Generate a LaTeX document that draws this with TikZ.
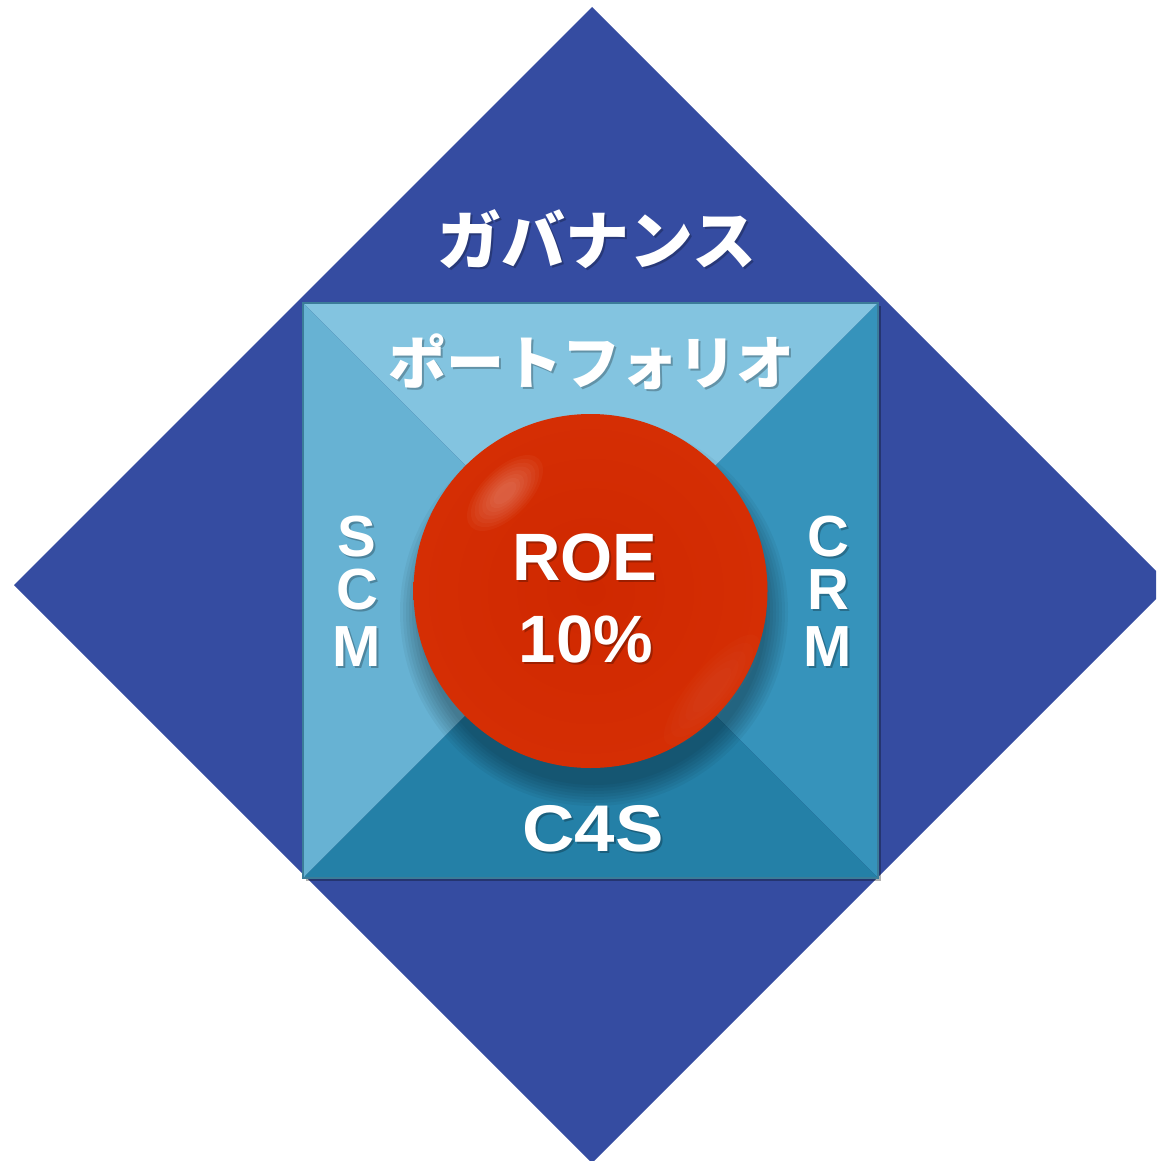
\documentclass[tikz,border=0pt]{standalone}
\usepackage{fontspec}
\setmainfont{Liberation Sans}
\newfontfamily\jpfont{Noto Sans CJK JP}
\usetikzlibrary{calc}

\definecolor{govblue}{HTML}{354CA1}
\definecolor{topface}{HTML}{83C4E0}
\definecolor{leftface}{HTML}{67B2D3}
\definecolor{rightface}{HTML}{3693BB}
\definecolor{bottomface}{HTML}{2480A7}
\definecolor{squareedge}{HTML}{3B7C99}
\definecolor{ballcore}{HTML}{CF2800}
\definecolor{ballmid}{HTML}{D52E04}
\definecolor{ballrim}{HTML}{E3440F}

\pgfdeclareradialshading{redball}{\pgfpoint{0bp}{0bp}}{%
  color(0bp)=(ballcore); color(25bp)=(ballmid); color(40bp)=(ballmid!75!ballrim);
  color(48bp)=(ballrim); color(50bp)=(ballrim!90!black)}

\tikzset{
  label/.style={text=white, font=\bfseries, inner sep=0pt, anchor=base},
  labelshadow/.style={text=black, opacity=0.25, font=\bfseries, inner sep=0pt, anchor=base},
  jplabel/.style={label, font=\jpfont\bfseries},
  jpshadow/.style={labelshadow, font=\jpfont\bfseries},
  letter/.style={font=\bfseries\fontsize{58}{58}\selectfont},
}

\begin{document}
\begin{tikzpicture}[x=1pt, y=-1pt]
  \useasboundingbox (0,0) rectangle (1156,1161);
  \clip (0,0) rectangle (1156,1161);

  % governance diamond
  \coordinate (dt) at (592,7);
  \coordinate (dr) at (1170,585);
  \coordinate (db) at (592,1163);
  \coordinate (dl) at (14,585);
  \fill[govblue] (dt) -- (dr) -- (db) -- (dl) -- cycle;

  % pyramid square, seen from above
  \coordinate (tl) at (303,303);
  \coordinate (tr) at (878,303);
  \coordinate (br) at (878,878);
  \coordinate (bl) at (303,878);
  \coordinate (sc) at (590.5,590.5);
  \fill[black, opacity=0.3] ($(tl)+(3,3)$) rectangle ($(br)+(3,3)$);
  \fill[topface] (tl) -- (tr) -- (sc) -- cycle;
  \fill[leftface] (tl) -- (bl) -- (sc) -- cycle;
  \fill[rightface] (tr) -- (br) -- (sc) -- cycle;
  \fill[bottomface] (bl) -- (br) -- (sc) -- cycle;
  \draw[squareedge, line width=1.5pt] (tl) rectangle (br);

  % soft shadow cast below the ball
  \begin{scope}
    \clip (tl) rectangle (br);
    \foreach \r in {194,191,...,173} {
      \fill[black, opacity=0.045] (594,612) circle[radius=\r];
    }
  \end{scope}

  % the ball
  \coordinate (bc) at (590.5,591);
  \shade[shading=redball] (bc) circle[radius=177];
  % glossy highlight, upper left
  \foreach \s in {1.0,0.9,...,0.2} {
    \fill[white, opacity=0.035, rotate around={45:(505,493)}]
      (505,493) ellipse[x radius=48*\s, y radius=24*\s];
  }
  % faint reflection, lower right
  \foreach \s in {1.0,0.85,...,0.3} {
    \fill[ballrim!60!white, opacity=0.03, rotate around={50:(712,690)}]
      (712,690) ellipse[x radius=70*\s, y radius=22*\s];
  }

  % labels
  \node[jpshadow, font=\jpfont\bfseries\fontsize{64}{64}\selectfont] (gov-sh) at (599,266) {ガバナンス};
  \node[jplabel, font=\jpfont\bfseries\fontsize{64}{64}\selectfont] (gov) at (597,264) {ガバナンス};

  \node[jpshadow, font=\jpfont\bfseries\fontsize{58}{58}\selectfont] (pf-sh) at (593,386) {ポートフォリオ};
  \node[jplabel, font=\jpfont\bfseries\fontsize{58}{58}\selectfont] (pf) at (591,384) {ポートフォリオ};

  \node[labelshadow, font=\bfseries\fontsize{67}{67}\selectfont] (roe-sh) at (587,582) {ROE};
  \node[label, font=\bfseries\fontsize{67}{67}\selectfont] (roe) at (585,580) {ROE};
  \node[labelshadow, font=\bfseries\fontsize{67}{67}\selectfont] (pct-sh) at (588,664) {10\%};
  \node[label, font=\bfseries\fontsize{67}{67}\selectfont] (pct) at (586,662) {10\%};

  \node[labelshadow, font=\bfseries\fontsize{66}{66}\selectfont, xscale=1.1] (c4s-sh) at (595,853) {C4S};
  \node[label, font=\bfseries\fontsize{66}{66}\selectfont, xscale=1.1] (c4s) at (593,851) {C4S};

  % vertical acronyms, one letter per node
  \foreach \ch/\yy/\nm in {S/556/s1, C/609/s2, M/666/s3} {
    \node[labelshadow, letter] (\nm-sh) at (359,\yy+2) {\ch};
    \node[label, letter] (\nm) at (357,\yy) {\ch};
  }
  \foreach \ch/\yy/\nm in {C/556/c1, R/609/c2, M/666/c3} {
    \node[labelshadow, letter] (\nm-sh) at (830,\yy+2) {\ch};
    \node[label, letter] (\nm) at (828,\yy) {\ch};
  }
\end{tikzpicture}
\end{document}
